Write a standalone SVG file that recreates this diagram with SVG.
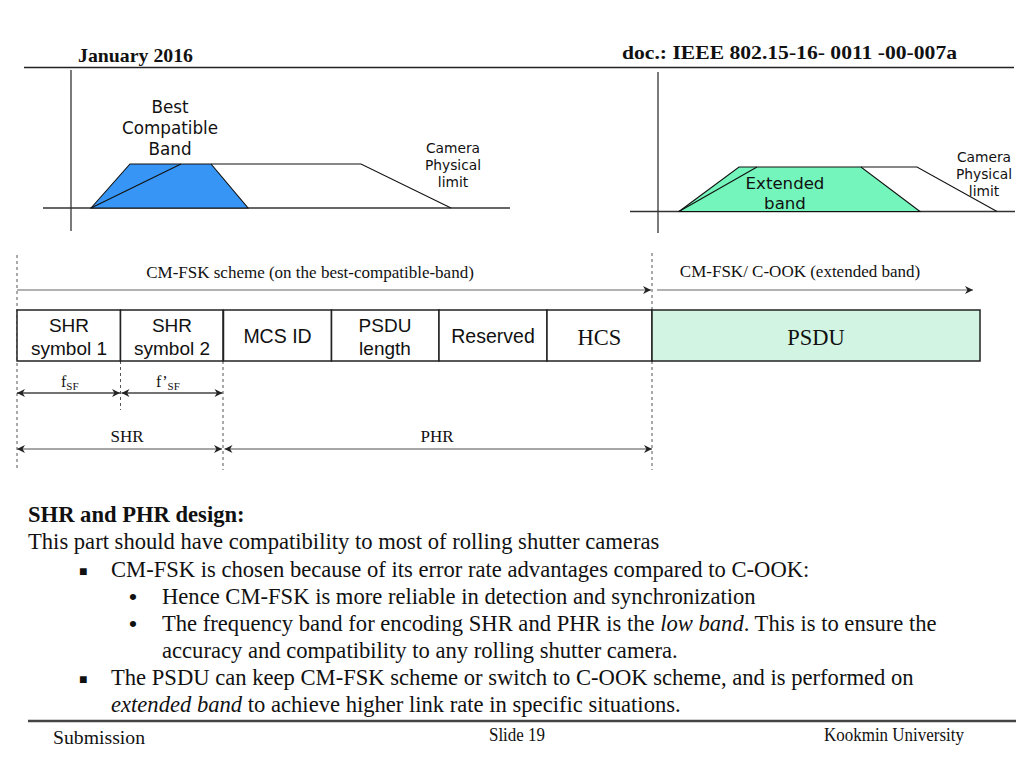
<svg xmlns="http://www.w3.org/2000/svg" width="1024" height="768" viewBox="0 0 1024 768">
<style>
.serif{font-family:"Liberation Serif","Times New Roman",serif;fill:#111}
.sans{font-family:"Liberation Sans",Arial,sans-serif;fill:#111}
.verd{font-family:"DejaVu Sans",Verdana,sans-serif;fill:#111}
.box{fill:#fff;stroke:#222;stroke-width:1.5}
.dash{stroke:#555;stroke-width:1;stroke-dasharray:3,3;fill:none}
.axis{stroke:#333;stroke-width:1.3;fill:none}
.edge{stroke:#111;stroke-width:1.1;fill:none}
.arrTop{stroke:#999;stroke-width:1.5;fill:none}
.arrMid{stroke:#444;stroke-width:1.3;fill:none}
.arrLow{stroke:#888;stroke-width:1.5;fill:none}
</style>
<defs>
<marker id="ah" viewBox="0 0 10 10" refX="10" refY="5" markerWidth="9" markerHeight="8" markerUnits="userSpaceOnUse" orient="auto-start-reverse">
<path d="M0,0 L10,5 L0,10 L3,5 z" fill="#222"/>
</marker>
</defs>
<rect width="1024" height="768" fill="#fff"/>

<g id="header">
<text class="serif" x="78" y="62" font-size="19" font-weight="bold" textLength="115" lengthAdjust="spacingAndGlyphs">January 2016</text>
<text class="serif" x="957" y="59" font-size="19" font-weight="bold" text-anchor="end" textLength="335" lengthAdjust="spacingAndGlyphs">doc.: IEEE 802.15-16- 0011 -00-007a</text>
<line x1="24" y1="67.5" x2="1014" y2="67.5" stroke="#222" stroke-width="1.5"/>
</g>

<g id="chart-best-compatible">
<line class="axis" x1="71" y1="70" x2="71" y2="231" stroke="#555"/>
<line class="axis" x1="43" y1="208" x2="510" y2="208"/>
<polygon points="91,208 130,164 211,164 248,208" fill="#3795f5" stroke="#111" stroke-width="1.1"/>
<polyline class="edge" points="211,164 361,164 451,208"/>
<line class="edge" x1="91" y1="208" x2="181" y2="164"/>
<text class="verd" font-size="16.8" text-anchor="middle"><tspan x="170" y="113">Best</tspan><tspan x="170" y="134">Compatible</tspan><tspan x="170" y="155">Band</tspan></text>
<text class="verd" font-size="13.8" text-anchor="middle"><tspan x="453" y="153">Camera</tspan><tspan x="453" y="170">Physical</tspan><tspan x="453" y="187">limit</tspan></text>
</g>

<g id="chart-extended">
<line class="axis" x1="658" y1="72" x2="658" y2="233" stroke="#555"/>
<line class="axis" x1="630" y1="211.5" x2="1015" y2="211.5"/>
<polygon points="679,211.5 739,167 861,167 920,211.5" fill="#74f5bc" stroke="#111" stroke-width="1.1"/>
<polyline class="edge" points="861,167 917,167 997,211.5"/>
<line class="edge" x1="679" y1="211.5" x2="757" y2="167"/>
<text class="verd" font-size="16.6" text-anchor="middle"><tspan x="785" y="189">Extended</tspan><tspan x="785" y="209">band</tspan></text>
<text class="verd" font-size="13.8" text-anchor="middle"><tspan x="984" y="162">Camera</tspan><tspan x="984" y="179">Physical</tspan><tspan x="984" y="196">limit</tspan></text>
</g>

<g id="guides">
<line class="dash" x1="17" y1="255" x2="17" y2="470"/>
<line class="dash" x1="652" y1="253" x2="652" y2="470"/>
<line class="dash" x1="120.5" y1="361" x2="120.5" y2="410"/>
<line class="dash" x1="223" y1="361" x2="223" y2="470"/>
</g>

<g id="frame">
<g id="shr1"><rect class="box" x="17" y="310" width="103.5" height="51"/><text class="sans" font-size="19" text-anchor="middle"><tspan x="69" y="332">SHR</tspan><tspan x="69" y="355">symbol 1</tspan></text></g>
<g id="shr2"><rect class="box" x="120.5" y="310" width="102.5" height="51"/><text class="sans" font-size="19" text-anchor="middle"><tspan x="172" y="332">SHR</tspan><tspan x="172" y="355">symbol 2</tspan></text></g>
<g id="mcs"><rect class="box" x="223.5" y="310" width="108" height="51"/><text class="sans" font-size="19.5" text-anchor="middle" x="277.5" y="343">MCS ID</text></g>
<g id="psdulen"><rect class="box" x="331.5" y="310" width="107.5" height="51"/><text class="sans" font-size="19" text-anchor="middle"><tspan x="385" y="332">PSDU</tspan><tspan x="385" y="355">length</tspan></text></g>
<g id="reserved"><rect class="box" x="439" y="310" width="108" height="51"/><text class="sans" font-size="19.5" text-anchor="middle" x="493" y="343">Reserved</text></g>
<g id="hcs"><rect class="box" x="547" y="310" width="105" height="51"/><text class="serif" font-size="22.5" text-anchor="middle" x="599.5" y="345">HCS</text></g>
<g id="psdu"><rect class="box" x="652" y="310" width="328" height="51" style="fill:#d2f5e3"/><text class="serif" font-size="22.5" text-anchor="middle" x="816" y="345">PSDU</text></g>
</g>

<g id="connectors">
<line class="arrTop" x1="17" y1="290" x2="651" y2="290" marker-end="url(#ah)"/>
<line class="arrTop" x1="657" y1="290" x2="973" y2="290" marker-end="url(#ah)"/>
<line class="arrMid" x1="17" y1="393" x2="120" y2="393" marker-start="url(#ah)" marker-end="url(#ah)"/>
<line class="arrMid" x1="121.5" y1="393" x2="222.5" y2="393" marker-start="url(#ah)" marker-end="url(#ah)"/>
<line class="arrLow" x1="17" y1="449" x2="222" y2="449" marker-start="url(#ah)" marker-end="url(#ah)"/>
<line class="arrLow" x1="224.5" y1="449" x2="652" y2="449" marker-start="url(#ah)" marker-end="url(#ah)"/>
</g>

<g id="labels">
<text class="serif" font-size="17" text-anchor="middle" x="310" y="278">CM-FSK scheme (on the best-compatible-band)</text>
<text class="serif" font-size="17" text-anchor="middle" x="800" y="277">CM-FSK/ C-OOK (extended band)</text>
<text class="serif" font-size="16" x="61" y="387">f<tspan font-size="11" dy="3">SF</tspan></text>
<text class="serif" font-size="16" x="156" y="387">f’<tspan font-size="11" dy="3">SF</tspan></text>
<text class="serif" font-size="17" text-anchor="middle" x="127" y="442">SHR</text>
<text class="serif" font-size="17" text-anchor="middle" x="437" y="442">PHR</text>
</g>

<g id="body" class="serif" font-size="22.6">
<text class="serif" x="28" y="522" font-weight="bold">SHR and PHR design:</text>
<text class="serif" x="28" y="549">This part should have compatibility to most of rolling shutter cameras</text>
<text class="sans" x="79" y="576" font-size="14">■</text>
<text class="serif" x="111" y="577">CM-FSK is chosen because of its error rate advantages compared to C-OOK:</text>
<text class="sans" x="129" y="604">•</text>
<text class="serif" x="162" y="604">Hence CM-FSK is more reliable in detection and synchronization</text>
<text class="sans" x="129" y="631">•</text>
<text class="serif" x="162" y="631">The frequency band for encoding SHR and PHR is the <tspan font-style="italic">low band</tspan>. This is to ensure the</text>
<text class="serif" x="162" y="658">accuracy and compatibility to any rolling shutter camera.</text>
<text class="sans" x="79" y="684" font-size="14">■</text>
<text class="serif" x="111" y="685">The PSDU can keep CM-FSK scheme or switch to C-OOK scheme, and is performed on</text>
<text class="serif" x="111" y="712"><tspan font-style="italic">extended band</tspan> to achieve higher link rate in specific situations.</text>
</g>

<g id="footer">
<line x1="28" y1="721" x2="1016" y2="721" stroke="#444" stroke-width="2.5"/>
<text class="serif" x="53" y="744" font-size="19" textLength="92" lengthAdjust="spacingAndGlyphs">Submission</text>
<text class="serif" x="517" y="741" font-size="18" text-anchor="middle" textLength="56" lengthAdjust="spacingAndGlyphs">Slide 19</text>
<text class="serif" x="964" y="741" font-size="18" text-anchor="end" textLength="140" lengthAdjust="spacingAndGlyphs">Kookmin University</text>
</g>
</svg>
